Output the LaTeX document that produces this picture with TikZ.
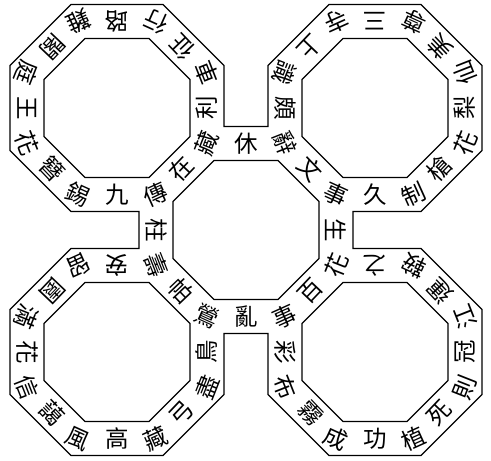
\documentclass[tikz,border=0pt]{standalone}
\usepackage{fontspec}
\newfontfamily\cjk{Noto Sans CJK TC}
\tikzset{
  frame/.style={draw=black, line width=1.2pt, line join=miter},
  ch/.style={font=\cjk\fontsize{23.5}{23.5}\selectfont, inner sep=0pt, anchor=center, text=black}
}
\begin{document}
\begin{tikzpicture}[x=1pt,y=-1pt]
\useasboundingbox[fill=white] (0,0) rectangle (491,461);
% outer boundary of the five linked rings
\draw[frame] (71,4.5) -- (163,4.5) -- (224,65.5) -- (224,126.5) -- (268,126.5)
  -- (268,65.5) -- (329,4.5) -- (421,4.5) -- (482,65.5) -- (482,150.5) -- (421,211.5)
  -- (353,211.5) -- (353,248.5)
  -- (421,248.5) -- (482,309.5) -- (482,394.5) -- (421,455.5) -- (329,455.5) -- (268,394.5)
  -- (268,333.5) -- (224,333.5)
  -- (224,394.5) -- (163,455.5) -- (71,455.5) -- (10,394.5) -- (10,309.5) -- (71,248.5)
  -- (139,248.5) -- (139,211.5)
  -- (71,211.5) -- (10,150.5) -- (10,65.5) -- cycle;
% inner octagons
\foreach \cx/\cy in {117/108, 375/108, 246/230, 117/352, 375/352} {
  \draw[frame] (\cx-32,\cy-69.5) -- (\cx+32,\cy-69.5) -- (\cx+73,\cy-28.5) -- (\cx+73,\cy+28.5)
    -- (\cx+32,\cy+69.5) -- (\cx-32,\cy+69.5) -- (\cx-73,\cy+28.5) -- (\cx-73,\cy-28.5) -- cycle;
}
% top-left ring
\node[ch, rotate=-155.7] (tl1)  at (78,21.5)   {難};
\node[ch, rotate=180]    (tl2)  at (117,21.5)  {路};
\node[ch, rotate=155.7]  (tl3)  at (156,21.5)  {行};
\node[ch, rotate=133.6]  (tl4)  at (181.5,47)  {征};
\node[ch, rotate=111.5]  (tl5)  at (207,72.5)  {車};
\node[ch, rotate=90]     (tl6)  at (207,108)   {利};
\node[ch, rotate=68.5]   (tl7)  at (207,143.5) {藏};
\node[ch, rotate=46.4]   (tl8)  at (181.5,169) {在};
\node[ch, rotate=24.3]   (tl9)  at (156,194.5) {傳};
\node[ch, rotate=0]      (tl10) at (117,194.5) {九};
\node[ch, rotate=-24.3]  (tl11) at (78,194.5)  {錫};
\node[ch, rotate=-46.4]  (tl12) at (52.5,169)  {簪};
\node[ch, rotate=-68.5]  (tl13) at (27,143.5)  {花};
\node[ch, rotate=-90]    (tl14) at (27,108)    {王};
\node[ch, rotate=-111.5] (tl15) at (27,72.5)   {庭};
\node[ch, rotate=-133.6] (tl16) at (52.5,47)   {閣};
% top-right ring
\node[ch, rotate=-155.7] (tr1)  at (336,21.5)  {寺};
\node[ch, rotate=180]    (tr2)  at (375,21.5)  {三};
\node[ch, rotate=155.7]  (tr3)  at (414,21.5)  {尊};
\node[ch, rotate=133.6]  (tr4)  at (439.5,47)  {美};
\node[ch, rotate=111.5]  (tr5)  at (465,72.5)  {仙};
\node[ch, rotate=90]     (tr6)  at (465,108)   {梨};
\node[ch, rotate=68.5]   (tr7)  at (465,143.5) {花};
\node[ch, rotate=46.4]   (tr8)  at (439.5,169) {槍};
\node[ch, rotate=24.3]   (tr9)  at (414,194.5) {制};
\node[ch, rotate=0]      (tr10) at (375,194.5) {久};
\node[ch, rotate=-24.3]  (tr11) at (336,194.5) {事};
\node[ch, rotate=-46.4]  (tr12) at (310.5,169) {文};
\node[ch, rotate=-68.5]  (tr13) at (285,143.5) {辭};
\node[ch, rotate=-90]    (tr14) at (285,108)   {頗};
\node[ch, rotate=-111.5] (tr15) at (285,72.5)  {識};
\node[ch, rotate=-133.6] (tr16) at (310.5,47)  {上};
% central ring (links)
\node[ch, rotate=0]   (c1) at (246,143.5) {休};
\node[ch, rotate=-90] (c2) at (336,230)   {生};
\node[ch, rotate=0]   (c3) at (246,316.5) {亂};
\node[ch, rotate=-90] (c4) at (156,230)   {柱};
% bottom-left ring
\node[ch, rotate=-155.7] (bl1)  at (78,265.5)  {留};
\node[ch, rotate=180]    (bl2)  at (117,265.5) {安};
\node[ch, rotate=-68.5]  (bl3)  at (156,265.5) {壽};
\node[ch, rotate=-46.4]  (bl4)  at (181.5,291) {帕};
\node[ch, rotate=-24.3]  (bl5)  at (207,316.5) {鶯};
\node[ch, rotate=90]     (bl6)  at (207,352)   {鳥};
\node[ch, rotate=68.5]   (bl7)  at (207,387.5) {盡};
\node[ch, rotate=46.4]   (bl8)  at (181.5,413) {弓};
\node[ch, rotate=24.3]   (bl9)  at (156,438.5) {藏};
\node[ch, rotate=0]      (bl10) at (117,438.5) {高};
\node[ch, rotate=-24.3]  (bl11) at (78,438.5)  {風};
\node[ch, rotate=-46.4]  (bl12) at (52.5,413)  {藹};
\node[ch, rotate=-68.5]  (bl13) at (27,387.5)  {信};
\node[ch, rotate=-90]    (bl14) at (27,352)    {花};
\node[ch, rotate=-111.5] (bl15) at (27,316.5)  {滿};
\node[ch, rotate=-133.6] (bl16) at (52.5,291)  {園};
% bottom-right ring
\node[ch, rotate=68.5]   (br1)  at (336,265.5) {花};
\node[ch, rotate=180]    (br2)  at (375,265.5) {之};
\node[ch, rotate=155.7]  (br3)  at (414,265.5) {鞍};
\node[ch, rotate=133.6]  (br4)  at (439.5,291) {運};
\node[ch, rotate=111.5]  (br5)  at (465,316.5) {江};
\node[ch, rotate=90]     (br6)  at (465,352)   {冠};
\node[ch, rotate=68.5]   (br7)  at (465,387.5) {則};
\node[ch, rotate=46.4]   (br8)  at (439.5,413) {死};
\node[ch, rotate=24.3]   (br9)  at (414,438.5) {植};
\node[ch, rotate=0]      (br10) at (375,438.5) {功};
\node[ch, rotate=-24.3]  (br11) at (336,438.5) {成};
\node[ch, rotate=-46.4]  (br12) at (310.5,413) {霧};
\node[ch, rotate=-68.5]  (br13) at (285,387.5) {布};
\node[ch, rotate=-90]    (br14) at (285,352)   {彩};
\node[ch, rotate=24.3]   (br15) at (285,316.5) {事};
\node[ch, rotate=46.4]   (br16) at (310.5,291) {百};
\end{tikzpicture}
\end{document}
